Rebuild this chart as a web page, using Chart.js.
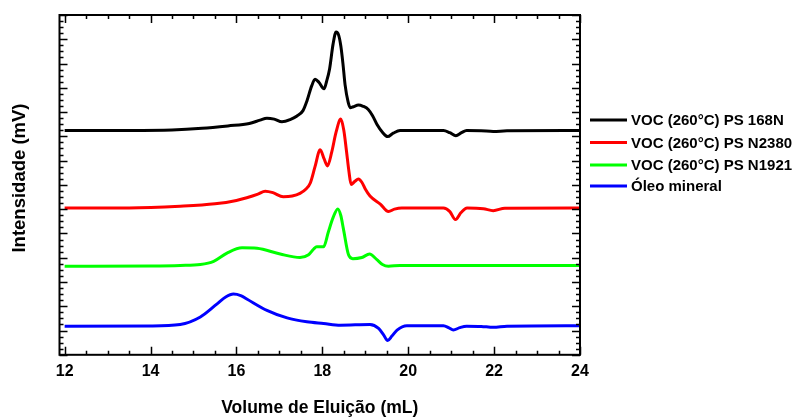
<!DOCTYPE html>
<html lang="pt-br">
<head>
    <meta charset="UTF-8">
    <title>Volume de Eluição</title>
    <script src="https://cdn.jsdelivr.net/npm/chart.js"></script>
    <style>
        body { margin: 0; background: #fff; }
        #grafico { width: 797px; height: 419px; }
    </style>
</head>
<body>
<div id="grafico"><canvas id="myChartCanvas"></canvas></div>

<script>
    const nomes = ['VOC (260°C) PS 168N', 'VOC (260°C) PS N2380', 'VOC (260°C) PS N1921', 'Óleo mineral'];

    const x168N = [12.0, 13.5, 14.5, 15.2, 15.8, 16.3, 16.55, 16.71, 16.88, 17.06, 17.25, 17.41, 17.55, 17.64, 17.75, 17.83, 17.92, 18.04, 18.10, 18.17, 18.25, 18.32, 18.38, 18.43, 18.48, 18.53, 18.60, 18.65, 18.72, 18.84, 18.95, 19.07, 19.17, 19.27, 19.40, 19.52, 19.65, 19.81, 20.82, 20.97, 21.11, 21.24, 21.36, 21.70, 21.98, 22.3, 24.0];
    const y168N = [9.24, 9.24, 9.26, 9.33, 9.43, 9.53, 9.67, 9.75, 9.71, 9.60, 9.69, 9.84, 10.06, 10.45, 11.07, 11.35, 11.23, 10.96, 11.27, 11.79, 12.80, 13.30, 13.17, 12.73, 12.00, 11.12, 10.42, 10.18, 10.22, 10.29, 10.24, 10.11, 9.85, 9.50, 9.17, 8.99, 9.13, 9.24, 9.24, 9.15, 9.03, 9.15, 9.24, 9.23, 9.20, 9.23, 9.24];

    const xN2380 = [12.0, 13.5, 14.69, 15.5, 16.0, 16.24, 16.5, 16.67, 16.85, 17.09, 17.3, 17.48, 17.62, 17.72, 17.83, 17.95, 18.04, 18.12, 18.22, 18.32, 18.43, 18.50, 18.56, 18.62, 18.67, 18.76, 18.84, 18.92, 19.00, 19.11, 19.35, 19.54, 19.68, 19.85, 20.82, 20.97, 21.10, 21.23, 21.37, 21.75, 21.98, 22.25, 24.0];
    const yN2380 = [6.05, 6.05, 6.12, 6.22, 6.36, 6.47, 6.62, 6.74, 6.68, 6.51, 6.54, 6.65, 6.83, 7.08, 7.75, 8.45, 8.08, 7.78, 8.36, 9.17, 9.71, 9.25, 8.43, 7.55, 7.02, 7.15, 7.24, 7.11, 6.83, 6.54, 6.21, 5.90, 6.00, 6.05, 6.05, 5.90, 5.57, 5.86, 6.05, 6.02, 5.94, 6.04, 6.05];

    const xN1921 = [12.0, 14.0, 14.69, 15.16, 15.47, 15.78, 16.13, 16.48, 17.02, 17.48, 17.68, 17.80, 17.87, 18.03, 18.14, 18.25, 18.36, 18.43, 18.49, 18.61, 18.71, 18.92, 19.10, 19.27, 19.40, 19.54, 19.81, 24.0];
    const yN1921 = [3.65, 3.66, 3.68, 3.72, 3.85, 4.19, 4.41, 4.39, 4.15, 4.01, 4.12, 4.36, 4.45, 4.45, 5.06, 5.65, 6.01, 5.74, 5.20, 4.12, 3.96, 4.01, 4.15, 3.92, 3.72, 3.65, 3.68, 3.68];

    const xOleo = [12.0, 14.0, 14.69, 15.16, 15.55, 15.75, 15.93, 16.1, 16.24, 16.71, 17.18, 17.64, 18.03, 18.42, 19.11, 19.31, 19.43, 19.52, 19.62, 19.74, 19.97, 20.82, 20.95, 21.05, 21.2, 21.36, 21.7, 21.98, 22.3, 24.0];
    const yOleo = [1.18, 1.19, 1.25, 1.56, 2.10, 2.38, 2.50, 2.44, 2.30, 1.83, 1.52, 1.36, 1.29, 1.22, 1.25, 1.09, 0.81, 0.59, 0.77, 1.02, 1.20, 1.20, 1.11, 1.02, 1.12, 1.18, 1.17, 1.13, 1.18, 1.20];

    const ticksX = [12, 14, 16, 18, 20, 22, 24];

    const cores = ['#000000', '#ff0000', '#00ff00', '#0000ff'];
    const fonte = '"Liberation Sans", Arial, sans-serif';

    function pontos(xs, ys) {
        return xs.map(function (v, i) { return { x: v, y: ys[i] }; });
    }

    const series = [pontos(x168N, y168N), pontos(xN2380, yN2380), pontos(xN1921, yN1921), pontos(xOleo, yOleo)];

    // moldura com ticks para dentro nos quatro lados + legenda + titulo do eixo y
    const moldura = {
        id: 'moldura',
        afterDatasetsDraw(chart) {
            const ctx = chart.ctx;
            const a = chart.chartArea;
            const sx = chart.scales.x;
            const sy = chart.scales.y;
            ctx.save();
            ctx.strokeStyle = '#000';
            ctx.lineWidth = 1.5;
            ctx.beginPath();
            for (let v = 12; v <= 24.001; v += 0.5) {
                const px = Math.round(sx.getPixelForValue(v)) + 0.5;
                const len = (Math.abs(v % 2) < 0.01) ? 8 : 4;
                ctx.moveTo(px, a.bottom); ctx.lineTo(px, a.bottom - len);
                ctx.moveTo(px, a.top); ctx.lineTo(px, a.top + len);
            }
            for (let v = 0; v <= 14.001; v += 0.25) {
                const py = Math.round(sy.getPixelForValue(v)) + 0.5;
                const len = (Math.abs(v % 1) < 0.01) ? 8 : 4;
                ctx.moveTo(a.left, py); ctx.lineTo(a.left + len, py);
                ctx.moveTo(a.right, py); ctx.lineTo(a.right - len, py);
            }
            ctx.stroke();
            ctx.lineWidth = 2;
            ctx.strokeRect(a.left, a.top, a.right - a.left, a.bottom - a.top);

            // legenda
            const yLeg = [120, 142.5, 165, 186];
            ctx.font = 'bold 15px ' + fonte;
            ctx.textBaseline = 'middle';
            ctx.fillStyle = '#000';
            chart.data.datasets.forEach(function (ds, i) {
                ctx.strokeStyle = ds.borderColor;
                ctx.lineWidth = 3;
                ctx.beginPath();
                ctx.moveTo(590, yLeg[i]);
                ctx.lineTo(627, yLeg[i]);
                ctx.stroke();
                ctx.fillText(ds.label, 631, yLeg[i] + 1);
            });

            // titulo do eixo y
            ctx.translate(20, 178);
            ctx.rotate(-Math.PI / 2);
            ctx.textAlign = 'center';
            ctx.font = 'bold 18.5px ' + fonte;
            ctx.fillText('Intensidade (mV)', 0, 0);
            ctx.restore();
        }
    };

    const config = {
        type: 'line',
        data: {
            datasets: series.map(function (d, i) {
                return {
                    label: nomes[i],
                    data: d,
                    borderColor: cores[i],
                    borderWidth: 3,
                    pointRadius: 0,
                    cubicInterpolationMode: 'monotone',
                    fill: false
                };
            })
        },
        options: {
            responsive: true,
            maintainAspectRatio: false,
            animation: false,
            layout: { padding: { left: 59.5, right: 217, top: 15, bottom: 0 } },
            plugins: {
                legend: { display: false },
                tooltip: { enabled: false }
            },
            scales: {
                x: {
                    type: 'linear',
                    min: 11.88,
                    max: 24,
                    grid: { display: false, drawTicks: false },
                    border: { display: false },
                    afterBuildTicks: function (scale) {
                        scale.ticks = ticksX.map(function (v) { return { value: v }; });
                    },
                    ticks: {
                        color: '#000',
                        padding: 7,
                        maxRotation: 0,
                        font: { family: fonte, size: 16, weight: 'bold' }
                    },
                    title: {
                        display: true,
                        text: 'Volume de Eluição (mL)',
                        color: '#000',
                        padding: { top: 10, bottom: 0 },
                        font: { family: fonte, size: 17.5, weight: 'bold' }
                    }
                },
                y: {
                    display: false,
                    min: 0,
                    max: 14
                }
            }
        },
        plugins: [moldura]
    };

    let myChart = new Chart(document.getElementById('myChartCanvas'), config);
</script>
</body>
</html>
